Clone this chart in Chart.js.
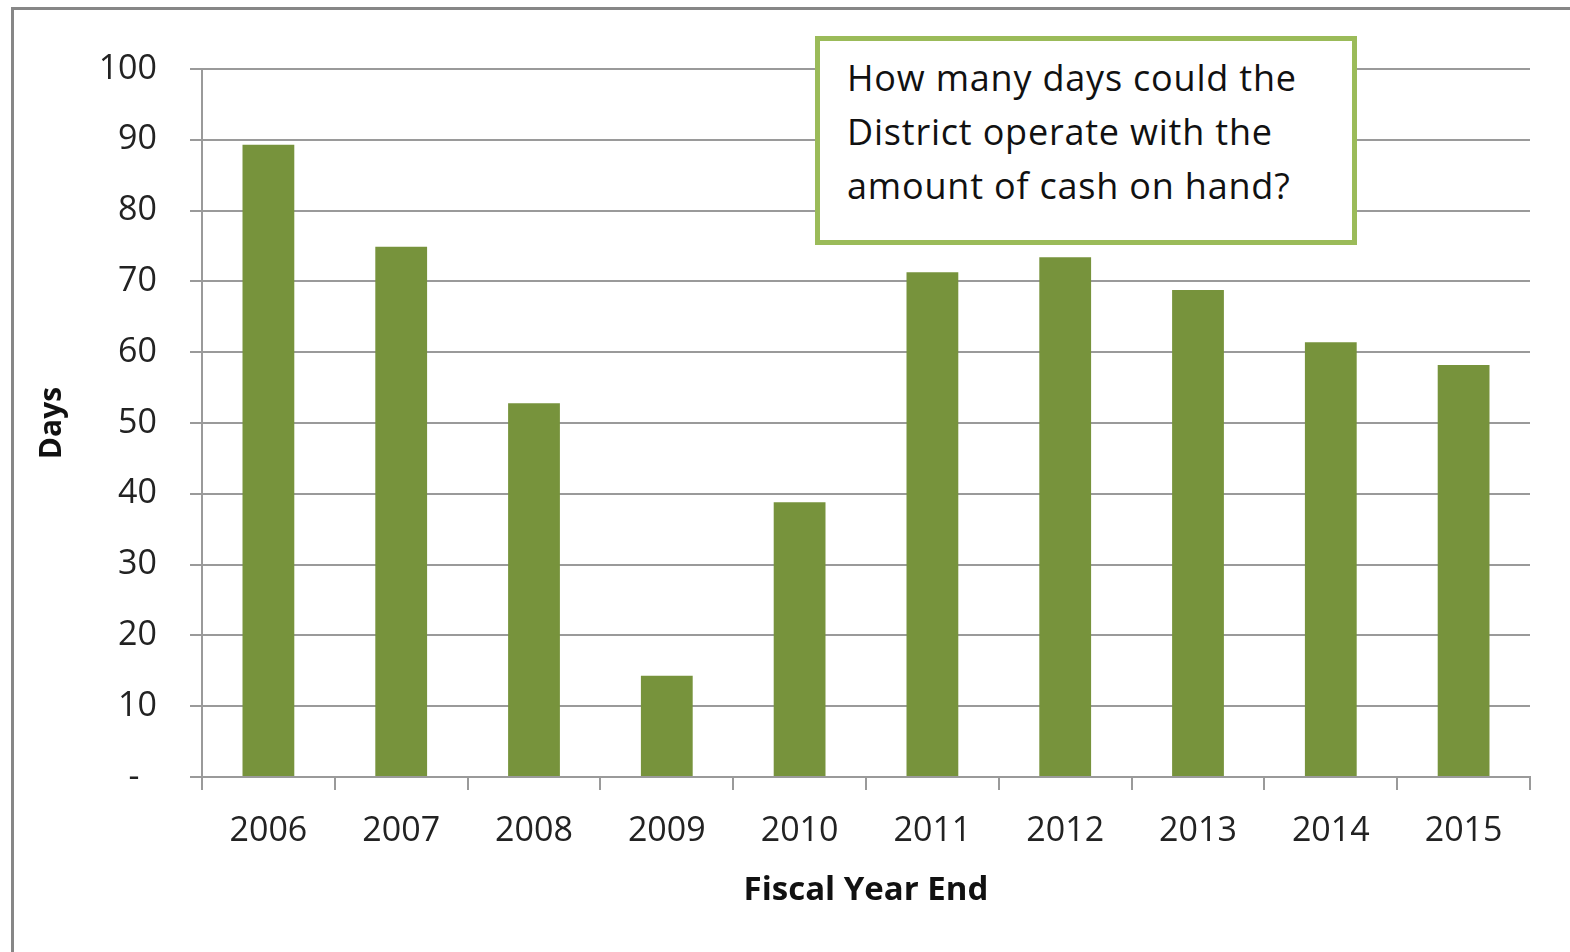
<!DOCTYPE html>
<html>
<head>
<meta charset="utf-8">
<script src="https://cdn.jsdelivr.net/npm/chart.js@4"></script>
<style>
  html, body { margin: 0; padding: 0; background: #fff; overflow: hidden; }
  #wrap { position: relative; width: 1570px; height: 952px; }
  #frame {
    position: absolute; left: 11px; top: 7px; width: 1600px; height: 1000px;
    border-left: 3px solid #878787; border-top: 3px solid #878787;
  }
  #note {
    position: absolute; left: 815px; top: 36px; width: 505px; height: 189px;
    border: 5px solid #9bbb59; background: #fff; padding-left: 27px;
    font-family: "Open Sans", sans-serif; font-size: 36px; line-height: 54px;
    letter-spacing: 0.8px; color: #111; padding-top: 10px; box-sizing: content-box;
  }
</style>
</head>
<body>
<div id="wrap">
  <div id="frame"></div>
  <canvas id="cashChart" width="1570" height="952"></canvas>
  <div id="note">How many days could the<br>District operate with the<br>amount of cash on hand?</div>
</div>
<script>
const years = ["2006", "2007", "2008", "2009", "2010", "2011", "2012", "2013", "2014", "2015"];
const days = [89.3, 74.9, 52.8, 14.3, 38.8, 71.3, 73.4, 68.8, 61.4, 58.2];
const yTicks = [0, 10, 20, 30, 40, 50, 60, 70, 80, 90, 100];

const gridColor = "#9a9a9a";
const ctx = document.getElementById("cashChart").getContext("2d");

new Chart(ctx, {
  type: "bar",
  data: {
    labels: years,
    datasets: [{
      label: "Days",
      data: days,
      backgroundColor: "#77933c",
      borderWidth: 0,
      barPercentage: 0.39,
      categoryPercentage: 1
    }]
  },
  options: {
    responsive: false,
    animation: false,
    layout: { padding: { left: 0, right: 40, top: 69, bottom: 0 } },
    plugins: { legend: { display: false }, tooltip: { enabled: false } },
    scales: {
      x: {
        grid: { display: true, drawOnChartArea: false, drawTicks: true, tickLength: 13, color: gridColor, lineWidth: 2, offset: true },
        border: { display: true, color: gridColor, width: 2 },
        ticks: { color: "#222", font: { family: "Open Sans", size: 34 }, padding: 21, maxRotation: 0 },
        title: { display: true, text: "Fiscal Year End", color: "#111", font: { family: "Open Sans", size: 33, weight: "bold" }, padding: { top: 0, bottom: 42 } },
        afterFit: function (scale) { scale.height = 175; }
      },
      y: {
        min: 0,
        max: 100,
        afterBuildTicks: function (scale) { scale.ticks = yTicks.map(v => ({ value: v })); },
        grid: { color: gridColor, lineWidth: 2, drawTicks: true, tickLength: 12 },
        border: { display: true, color: gridColor, width: 2 },
        ticks: {
          color: "#222",
          font: { family: "Open Sans", size: 34 },
          padding: 33,
          callback: v => v === 0 ? "-  " : String(v)
        },
        title: { display: true, text: "Days", color: "#111", font: { family: "Open Sans", size: 30, weight: "bold" }, padding: { top: 34, bottom: 0 } },
        afterFit: function (scale) { scale.width = 202; }
      }
    }
  }
});
</script>
</body>
</html>
